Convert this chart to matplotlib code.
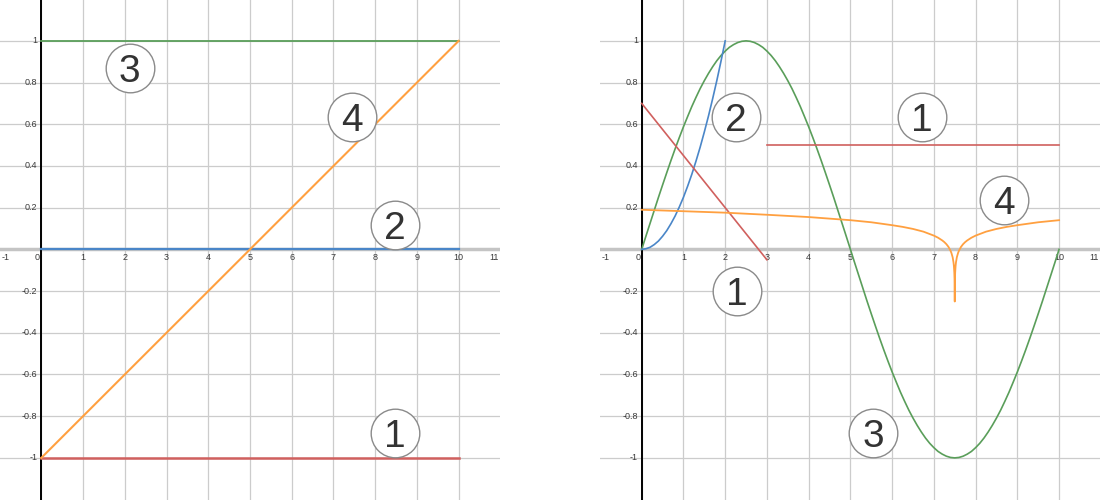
import numpy as np
import matplotlib.pyplot as plt

# Left panel: four straight graphs
left_x = [0, 10]
left_red = [-1, -1]
left_blue = [0, 0]
left_green = [1, 1]
left_orange = [-1, 1]

# Right panel
blue_x = [0, 0.1, 0.2, 0.3, 0.4, 0.5, 0.6, 0.7, 0.8, 0.9, 1.0,
          1.1, 1.2, 1.3, 1.4, 1.5, 1.6, 1.7, 1.8, 1.9, 2.0]
blue_y = [0, 0.003, 0.01, 0.023, 0.04, 0.063, 0.09, 0.123, 0.16, 0.203, 0.25,
          0.303, 0.36, 0.423, 0.49, 0.563, 0.64, 0.723, 0.81, 0.903, 1.0]

green_x = [
    0.0, 0.1, 0.2, 0.3, 0.4, 0.5, 0.6, 0.7, 0.8, 0.9,
    1.0, 1.1, 1.2, 1.3, 1.4, 1.5, 1.6, 1.7, 1.8, 1.9,
    2.0, 2.1, 2.2, 2.3, 2.4, 2.5, 2.6, 2.7, 2.8, 2.9,
    3.0, 3.1, 3.2, 3.3, 3.4, 3.5, 3.6, 3.7, 3.8, 3.9,
    4.0, 4.1, 4.2, 4.3, 4.4, 4.5, 4.6, 4.7, 4.8, 4.9,
    5.0, 5.1, 5.2, 5.3, 5.4, 5.5, 5.6, 5.7, 5.8, 5.9,
    6.0, 6.1, 6.2, 6.3, 6.4, 6.5, 6.6, 6.7, 6.8, 6.9,
    7.0, 7.1, 7.2, 7.3, 7.4, 7.5, 7.6, 7.7, 7.8, 7.9,
    8.0, 8.1, 8.2, 8.3, 8.4, 8.5, 8.6, 8.7, 8.8, 8.9,
    9.0, 9.1, 9.2, 9.3, 9.4, 9.5, 9.6, 9.7, 9.8, 9.9,
    10.0]
green_y = [
    0, 0.063, 0.125, 0.187, 0.249, 0.309, 0.368, 0.426, 0.482, 0.536,
    0.588, 0.637, 0.685, 0.729, 0.771, 0.809, 0.844, 0.876, 0.905, 0.930,
    0.951, 0.969, 0.982, 0.992, 0.998, 1.0, 0.998, 0.992, 0.982, 0.969,
    0.951, 0.930, 0.905, 0.876, 0.844, 0.809, 0.771, 0.729, 0.685, 0.637,
    0.588, 0.536, 0.482, 0.426, 0.368, 0.309, 0.249, 0.187, 0.125, 0.063,
    0, -0.063, -0.125, -0.187, -0.249, -0.309, -0.368, -0.426, -0.482, -0.536,
    -0.588, -0.637, -0.685, -0.729, -0.771, -0.809, -0.844, -0.876, -0.905, -0.930,
    -0.951, -0.969, -0.982, -0.992, -0.998, -1.0, -0.998, -0.992, -0.982, -0.969,
    -0.951, -0.930, -0.905, -0.876, -0.844, -0.809, -0.771, -0.729, -0.685, -0.637,
    -0.588, -0.536, -0.482, -0.426, -0.368, -0.309, -0.249, -0.187, -0.125, -0.063,
    0]

red_a_x = [0, 3]
red_a_y = [0.7, -0.05]
red_b_x = [3, 10]
red_b_y = [0.5, 0.5]

orange_x = [0, 1, 2, 3, 4, 5, 5.5, 6, 6.25, 6.5,
            6.75, 7, 7.1, 7.2, 7.25, 7.3, 7.35, 7.4, 7.42, 7.45,
            7.47, 7.48, 7.49, 7.495, 7.5, 7.505, 7.51, 7.52, 7.53, 7.55,
            7.58, 7.6, 7.65, 7.7, 7.75, 7.8, 7.9, 8, 8.25, 8.5,
            8.75, 9, 9.5, 10]
orange_y = [0.19, 0.183, 0.176, 0.166, 0.155, 0.14, 0.13, 0.116, 0.108, 0.098,
            0.085, 0.066, 0.056, 0.043, 0.035, 0.025, 0.012, -0.007, -0.017, -0.038,
            -0.062, -0.08, -0.112, -0.143, -0.25, -0.143, -0.112, -0.08, -0.062, -0.038,
            -0.017, -0.007, 0.012, 0.025, 0.035, 0.043, 0.056, 0.066, 0.085, 0.098,
            0.108, 0.116, 0.13, 0.14]

# circled labels: (text, x, y)
left_labels = [("3", 2.12, 0.868), ("4", 7.44, 0.635), ("2", 8.47, 0.117), ("1", 8.47, -0.881)]
right_labels = [("2", 2.26, 0.635), ("1", 6.71, 0.635), ("4", 8.69, 0.236),
                ("1", 2.29, -0.2), ("3", 5.54, -0.88)]

x_ticks = list(range(-1, 12))
y_ticks = [-1, -0.8, -0.6, -0.4, -0.2, 0.2, 0.4, 0.6, 0.8, 1]
y_tick_labels = ["-1", "-0.8", "-0.6", "-0.4", "-0.2", "0.2", "0.4", "0.6", "0.8", "1"]

RED = '#d0605e'
BLUE = '#4a86c8'
GREEN = '#5a9e5a'
ORANGE = '#ffa040'
FONT = ['Liberation Sans', 'DejaVu Sans']

XLIM = (-0.99, 10.99)
YLIM = (-1.202, 1.196)


def setup_axes(ax):
    ax.set_xlim(*XLIM)
    ax.set_ylim(*YLIM)
    for s in ax.spines.values():
        s.set_visible(False)
    ax.set_xticks(list(range(0, 11)))
    ax.set_yticks([-1, -0.8, -0.6, -0.4, -0.2, 0, 0.2, 0.4, 0.6, 0.8, 1])
    ax.tick_params(length=0, labelbottom=False, labelleft=False)
    ax.grid(True, color='#cccccc', lw=0.9, zorder=0)
    ax.set_axisbelow(True)
    ax.axhline(0, color='#c4c4c4', lw=2.5, zorder=1)
    ax.axvline(0, color='black', lw=1.4, zorder=1)

    kw = dict(va='center', fontsize=6.5, color='#3a3a3a', family=FONT)
    for t in x_ticks:
        if t == 0:
            ax.text(-0.095, -0.037, "0", ha='center', **kw)
        elif t < XLIM[0]:
            ax.text(XLIM[0] + 0.03, -0.037, str(t), ha='left', **kw)
        elif t > XLIM[1] - 0.1:
            ax.text(XLIM[1] - 0.03, -0.037, str(t), ha='right', **kw)
        else:
            ax.text(t, -0.037, str(t), ha='center', **kw)
    for v, lab in zip(y_ticks, y_tick_labels):
        ax.text(-0.09, v, lab, ha='right', **kw)


def circled(ax, labels):
    for txt, x, y in labels:
        ax.plot(x, y, 'o', ms=35, mfc='white', mec='#8a8a8a', mew=1.0, zorder=5)
        # baseline placed half a digit height below the circle centre
        ax.annotate(txt, (x, y), xytext=(0, -10), textcoords='offset points',
                    ha='center', va='baseline', fontsize=28, color='#333',
                    family=FONT, zorder=6)


fig = plt.figure(figsize=(11, 5), dpi=100)
ax1 = fig.add_axes([0, 0, 500 / 1100, 1])
ax2 = fig.add_axes([600.4 / 1100, 0, 500 / 1100, 1])

setup_axes(ax1)
ax1.plot(left_x, left_red, color=RED, lw=1.8, zorder=3)
ax1.plot(left_x, left_blue, color=BLUE, lw=1.6, zorder=3)
ax1.plot(left_x, left_green, color=GREEN, lw=1.3, zorder=3)
ax1.plot(left_x, left_orange, color=ORANGE, lw=1.5, zorder=3)
circled(ax1, left_labels)

setup_axes(ax2)
ax2.plot(green_x, green_y, color=GREEN, lw=1.2, zorder=3)
ax2.plot(blue_x, blue_y, color=BLUE, lw=1.2, zorder=3)
ax2.plot(red_a_x, red_a_y, color=RED, lw=1.2, zorder=3)
ax2.plot(red_b_x, red_b_y, color=RED, lw=1.2, zorder=3)
ax2.plot(orange_x, orange_y, color=ORANGE, lw=1.3, zorder=3)
circled(ax2, right_labels)

fig.savefig('out.png', dpi=100)
